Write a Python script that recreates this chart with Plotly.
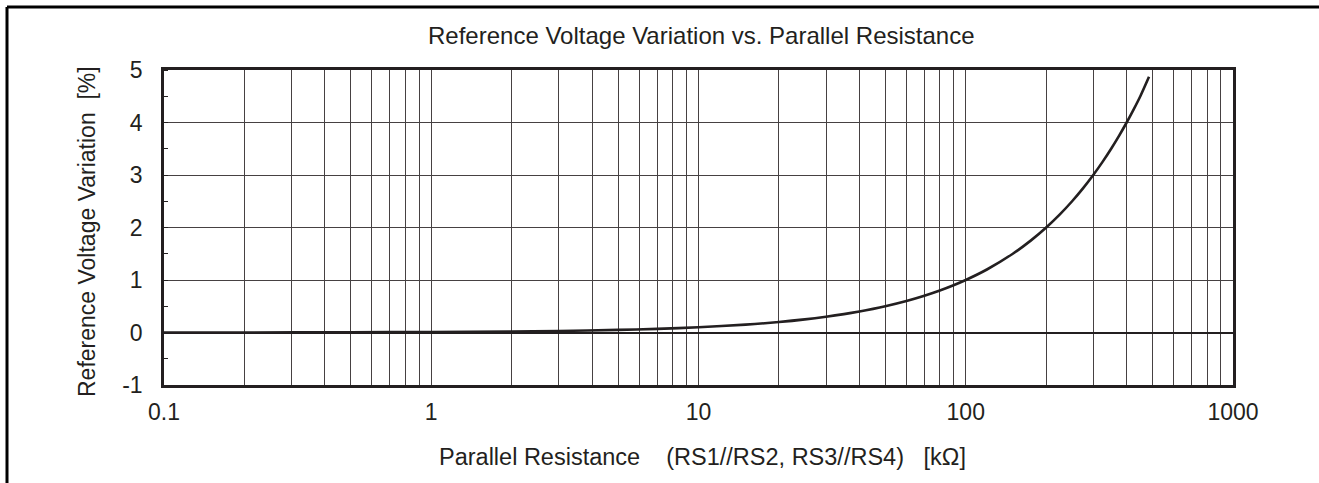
import plotly.graph_objects as go

# Data
resistance_kohm = [0.1, 0.2, 0.5, 1, 2, 3, 5, 7, 10, 15, 20, 25, 30, 35, 40, 45, 50, 60, 70, 80, 90,
                   100, 120, 150, 175, 200, 225, 250, 275, 300, 325, 350, 375, 400, 425, 450, 485]
variation_pct = [0.0, 0.0, 0.005, 0.01, 0.02, 0.03, 0.05, 0.07, 0.1, 0.15, 0.2, 0.25, 0.3, 0.35,
                 0.4, 0.45, 0.5, 0.6, 0.7, 0.8, 0.9, 1.0, 1.2, 1.5, 1.75, 2.0, 2.25, 2.5, 2.75,
                 3.0, 3.25, 3.5, 3.75, 4.0, 4.25, 4.5, 4.87]

decades = [0.1, 1, 10, 100]
x_tickvals = [round(d * m, 4) for d in decades for m in range(1, 10)] + [1000]
decade_labels = {0.1: "0.1", 1: "1", 10: "10", 100: "100", 1000: "1000"}
x_ticktext = [decade_labels.get(v, "") for v in x_tickvals]
y_tickvals = [-1, 0, 1, 2, 3, 4, 5]
y_ticktext = ["-1", "0", "1", "2", "3", "4", "5"]

title_text = "Reference Voltage Variation vs. Parallel Resistance"
x_title = "Parallel Resistance    (RS1//RS2, RS3//RS4)   [kΩ]"
y_title = "Reference Voltage Variation  [%]"

INK = "#231f20"
GRID = "#464142"
FONT = "Liberation Sans, Arial, sans-serif"

fig = go.Figure()
fig.add_trace(go.Scatter(
    x=resistance_kohm, y=variation_pct, mode="lines",
    line=dict(color=INK, width=2.6, shape="spline", smoothing=0.8),
    showlegend=False, hoverinfo="x+y",
))

W, H = 1319, 483
L, R, T, B = 164, 86, 70, 98
pw, ph = W - L - R, H - T - B

def px(xp):
    return (xp - L) / pw

def py(yp):
    return (H - B - yp) / ph

fig.update_layout(
    width=W, height=H,
    margin=dict(l=L, r=R, t=T, b=B, pad=0),
    paper_bgcolor="white", plot_bgcolor="white",
    font=dict(family=FONT, color=INK, size=23),
    xaxis=dict(
        type="log", range=[-1, 3],
        tickmode="array", tickvals=x_tickvals, ticktext=x_ticktext,
        showgrid=True, gridcolor=GRID, gridwidth=1.1,
        showline=True, linecolor=INK, linewidth=2.5, mirror=True,
        ticks="outside", ticklen=5, tickcolor="rgba(0,0,0,0)",
        tickfont=dict(size=23, color=INK, family=FONT),
        zeroline=False,
    ),
    yaxis=dict(
        range=[-1, 5],
        tickmode="array", tickvals=y_tickvals, ticktext=y_ticktext,
        showgrid=True, gridcolor=GRID, gridwidth=1.1,
        showline=True, linecolor=INK, linewidth=2.5, mirror=True,
        zeroline=True, zerolinecolor=INK, zerolinewidth=2,
        ticks="outside", ticklen=14, tickcolor="rgba(0,0,0,0)",
        tickfont=dict(size=23, color=INK, family=FONT),
        minor=dict(dtick=0.5, tick0=0, ticks="inside", ticklen=4, tickwidth=1,
                   tickcolor=INK, showgrid=False),
    ),
    annotations=[
        dict(text=title_text, xref="paper", yref="paper", x=px(701), y=py(36),
             xanchor="center", yanchor="middle", showarrow=False,
             font=dict(size=24, color=INK, family=FONT)),
        dict(text=x_title, xref="paper", yref="paper", x=px(702), y=py(457),
             xanchor="center", yanchor="middle", showarrow=False,
             font=dict(size=23.5, color=INK, family=FONT)),
        dict(text=y_title, xref="paper", yref="paper", x=px(87), y=py(232),
             xanchor="center", yanchor="middle", showarrow=False, textangle=-90,
             font=dict(size=23, color=INK, family=FONT)),
    ],
    shapes=[
        dict(type="line", xref="paper", yref="paper",
             x0=px(7), y0=py(7), x1=px(W + 5), y1=py(7),
             line=dict(color="black", width=3)),
        dict(type="line", xref="paper", yref="paper",
             x0=px(7), y0=py(7), x1=px(7), y1=py(H + 5),
             line=dict(color="black", width=3)),
    ],
)

fig.write_html("out.html", config={"displayModeBar": False},
               post_script="document.body.style.margin='0';document.body.style.overflow='hidden';")
